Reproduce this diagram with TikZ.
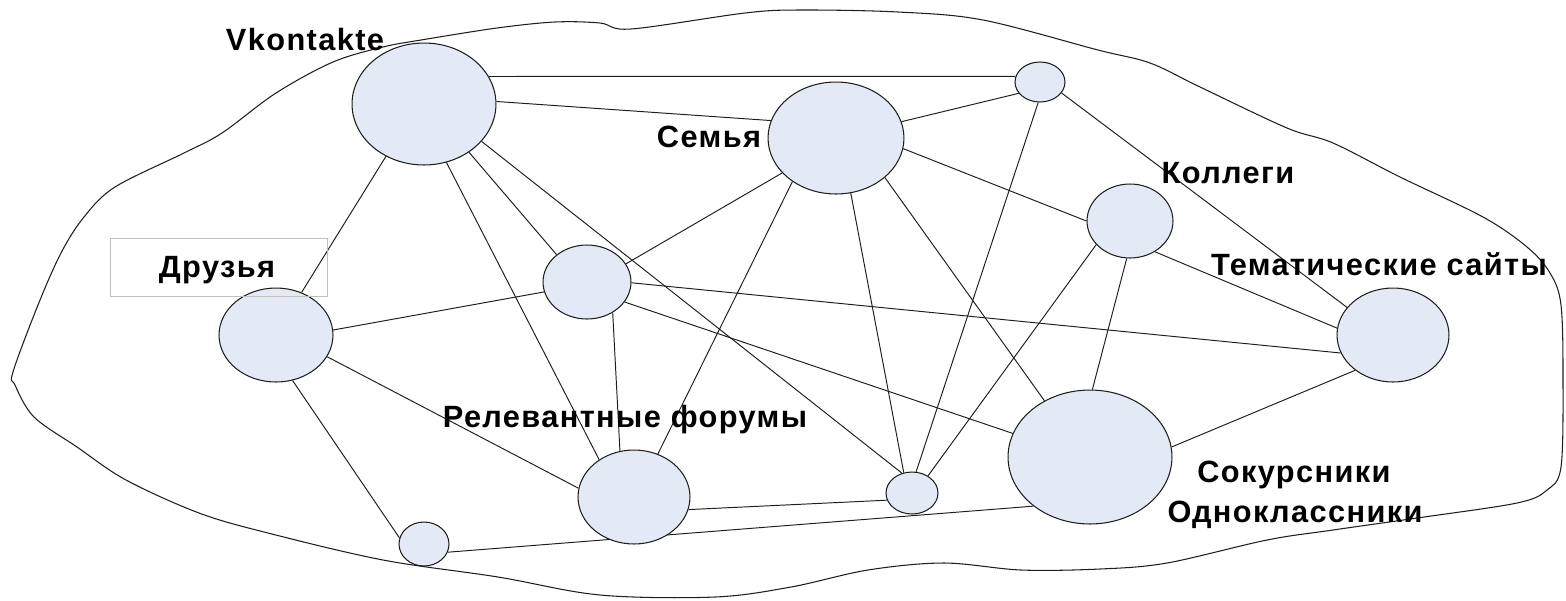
\documentclass[tikz,border=0pt]{standalone}
\usepackage{fontspec}
\setmainfont{Liberation Sans}
\newfontfamily\labfont[LetterSpace=4.5]{Liberation Sans}
\usetikzlibrary{shapes.geometric}
\pgfdeclarelayer{bg}
\pgfsetlayers{bg,main}
\definecolor{nfill}{RGB}{228,234,245}
\definecolor{nline}{RGB}{30,30,30}
\tikzset{
  nd/.style 2 args={ellipse, draw=nline, fill=nfill, line width=0.6pt, inner sep=0pt,
    minimum width={#1*0.04cm}, minimum height={#2*0.04cm}},
  lnk/.style={draw=nline, line width=0.55pt},
  blob/.style={draw=nline, line width=0.6pt},
  lab/.style={font=\labfont\fontsize{17.5}{21}\selectfont\bfseries, inner sep=0pt, anchor=base, text=black},
  labbox/.style={draw=black!25, line width=0.4pt, inner sep=0pt}
}
\begin{document}
\begin{tikzpicture}[x=0.02cm, y=-0.02cm]
\useasboundingbox (0,0) rectangle (1566,600);
% nodes
\node[nd={72}{61}] (vk)  at (424,104) {};
\node[nd={25}{20}] (tsm) at (1040,82) {};
\node[nd={68}{56}] (fam) at (836,138) {};
\node[nd={43}{37}] (col) at (1130,221) {};
\node[nd={44}{37}] (mid) at (587,282) {};
\node[nd={57}{47}] (fr)  at (276,335) {};
\node[nd={56}{47}] (tem) at (1393,335) {};
\node[nd={82}{67}] (sok) at (1090,457) {};
\node[nd={56}{47}] (rel) at (634,497) {};
\node[nd={26}{21}] (csm) at (912,493) {};
\node[nd={25}{22}] (bsm) at (424,544) {};
\begin{pgfonlayer}{bg}
\draw[blob] plot[smooth cycle, tension=0.55] coordinates {
 (13,372) (38,305) (61,253) (84,217) (115,187) (184,153) (222,133) (276,93)
 (333,62) (383,47) (421,40) (497,28) (555,22) (600,23) (631,29) (745,13)
 (799,10) (898,12) (983,20) (1098,50) (1150,63) (1200,87) (1287,128) (1333,143)
 (1400,177) (1483,217) (1527,247) (1550,273) (1561,305) (1563,380) (1561,467)
 (1547,490) (1517,503) (1417,518) (1333,530) (1267,540) (1167,563) (1100,569)
 (1021,570) (944,563) (868,570) (791,587) (715,597) (600,595) (498,577)
 (383,560) (268,533) (199,513) (126,480) (77,447) (34,417) (15,385)};
\draw[lnk] (vk.23) -- (tsm.167);
\draw[lnk] (vk.2) -- (fam.165);
\draw[lnk] (vk.234) -- (fr.59);
\draw[lnk] (vk.291) -- (rel.133);
\draw[lnk] (vk.313) -- (mid.138);
\draw[lnk] (vk.327) -- (csm.117);
\draw[lnk] (fam.14) -- (tsm.208);
\draw[lnk] (fam.213) -- (mid.25);
\draw[lnk] (fam.225) -- (rel.61);
\draw[lnk] (fam.285) -- (csm.112);
\draw[lnk] (fam.321) -- (sok.129);
\draw[lnk] (fam.351) -- (col.180);
\draw[lnk] (tsm.265) -- (csm.79);
\draw[lnk] (tsm.333) -- (tem.149);
\draw[lnk] (col.215) -- (csm.47);
\draw[lnk] (col.265) -- (sok.88);
\draw[lnk] (col.309) -- (tem.173);
\draw[lnk] (mid.359) -- (tem.199);
\draw[lnk] (mid.193) -- (fr.5);
\draw[lnk] (mid.310) -- (rel.107);
\draw[lnk] (mid.332) -- (sok.163);
\draw[lnk] (fr.337) -- (rel.171);
\draw[lnk] (fr.290) -- (bsm.166);
\draw[lnk] (rel.347) -- (csm.196);
\draw[lnk] (bsm.341) -- (sok.221);
\draw[lnk] (tem.223) -- (sok.7);
\end{pgfonlayer}
% labels
\node[labbox, minimum width={217*0.02cm}, minimum height={58*0.02cm}] (frbox) at (218.5,267) {};
\node[lab] (lvk)  at (305,50) {Vkontakte};
\node[lab] (lfam) at (709,147) {Семья};
\node[lab] (lcol) at (1228,183) {Коллеги};
\node[lab] (lfr)  at (217,277) {Друзья};
\node[lab] (ltem) at (1379,275) {Тематические сайты};
\node[lab] (lrel) at (625,427) {Релевантные форумы};
\node[lab] (lsok) at (1294,482) {Сокурсники};
\node[lab] (lodn) at (1295,522) {Одноклассники};
\end{tikzpicture}
\end{document}
